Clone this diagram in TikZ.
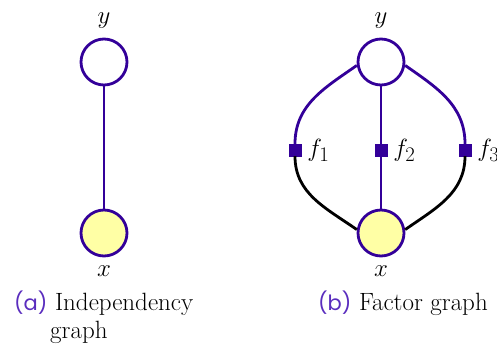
\documentclass[tikz,border=0pt]{standalone}
\usepackage{fontspec}
\newfontfamily\capfont{Poppins}
\usetikzlibrary{positioning}
\definecolor{pur}{RGB}{51,0,153}
\definecolor{capc}{RGB}{90,45,190}
\definecolor{obsy}{RGB}{255,255,165}
\tikzset{
  var/.style  = {draw=pur, circle, line width=2.8pt, minimum size=46pt, inner sep=0pt, fill=white},
  obs/.style  = {var, fill=obsy},
  fac/.style  = {draw=pur, fill=pur, rectangle, minimum size=12pt, inner sep=0pt},
  pl/.style   = {draw=pur, line width=2.8pt},
  bl/.style   = {draw=black, line width=2.8pt},
  vlab/.style = {font=\fontsize{28}{30}\selectfont, inner sep=0pt},
  captxt/.style = {font=\fontsize{25}{28}\selectfont, inner sep=0pt, align=left},
}
\newcommand{\sublab}[1]{{\capfont\fontsize{21}{24}\selectfont\color{capc}#1}}
\begin{document}
\begin{tikzpicture}[x=1pt, y=1pt]
\useasboundingbox (0,0) rectangle (497,349);

% (a) independency graph
\node[var] (ya) at (104,287) {};
\node[obs] (xa) at (104,116) {};
\node[vlab, above=9pt of ya] {$y$};
\node[vlab, below=8pt of xa] {$x$};
\draw[pl] (ya) -- (xa);

% (b) factor graph
\node[var] (yb) at (381,287) {};
\node[obs] (xb) at (381,116) {};
\node[vlab, above=9pt of yb] {$y$};
\node[vlab, below=8pt of xb] {$x$};
\node[fac] (f1) at (295,199) {};
\node[fac] (f2) at (381,199) {};
\node[fac] (f3) at (465,199) {};
\node[vlab, right=6pt of f1] {$f_1$};
\node[vlab, right=6pt of f2] {$f_2$};
\node[vlab, right=6pt of f3] {$f_3$};

\draw[pl] (yb.188) to[out=215, in=90] (f1);
\draw[pl] (yb) -- (f2);
\draw[pl] (yb.-8) to[out=-35, in=90] (f3);
\draw[bl] (f1) to[out=-90, in=145] (xb.172);
\draw[pl] (f2) -- (xb);
\draw[bl] (f3) to[out=-90, in=35] (xb.8);

% captions
\node[captxt, anchor=base west] (capa) at (14,39)
  {\sublab{(a)} Independency};
\node[captxt, anchor=base west] (capa2) at (50,11) {graph};
\node[captxt, anchor=base west] (capb) at (318,39)
  {\sublab{(b)} Factor graph};
\end{tikzpicture}
\end{document}
